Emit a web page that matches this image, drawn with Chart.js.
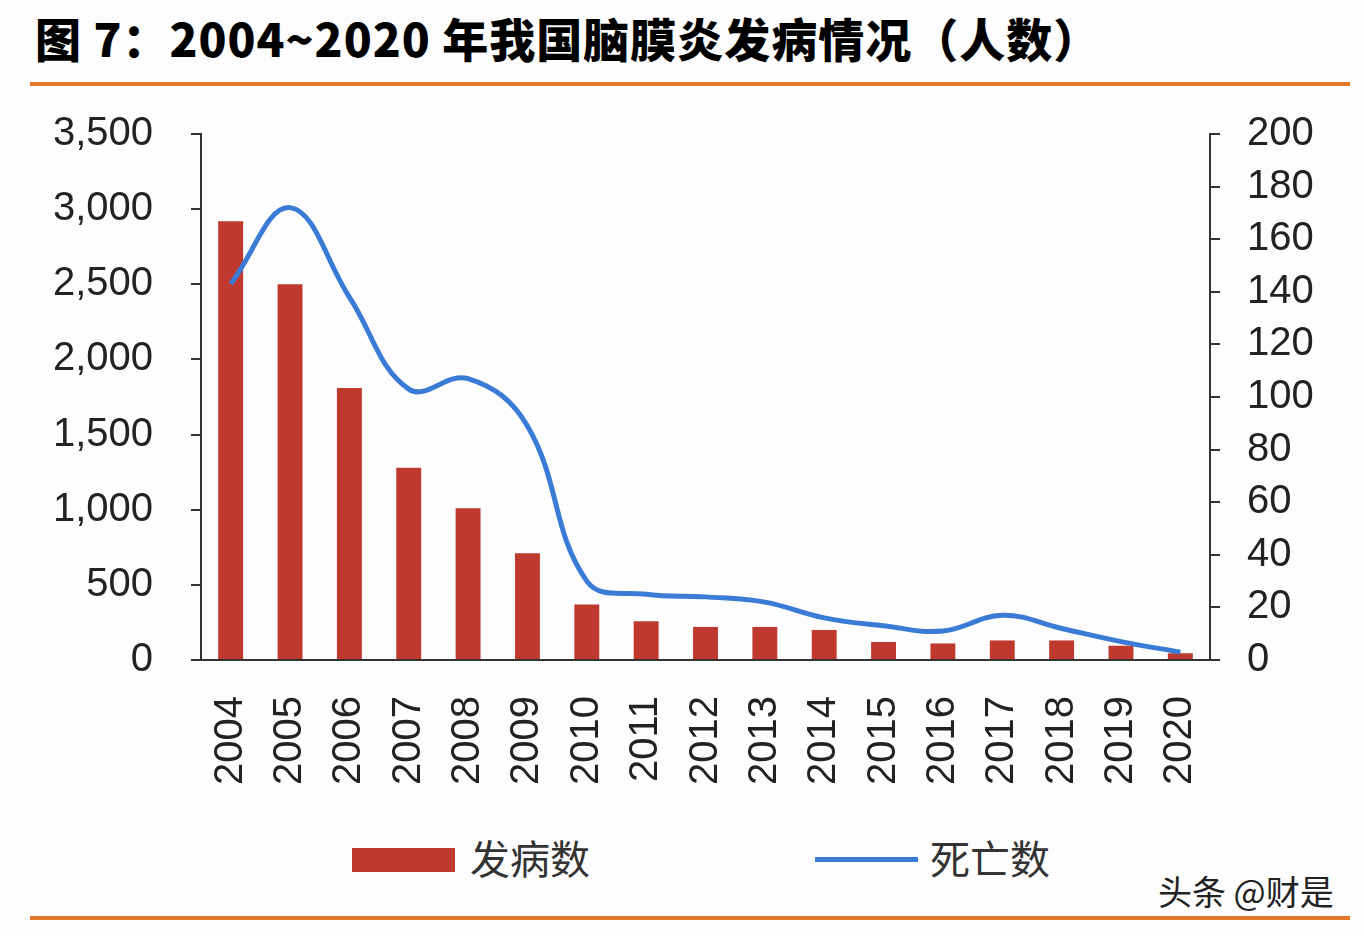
<!DOCTYPE html>
<html>
<head>
<meta charset="utf-8">
<script src="https://cdn.jsdelivr.net/npm/chart.js@4"></script>
<style>
    body { margin: 0; background: #fdfdfd; width: 1364px; height: 936px; position: relative; overflow: hidden; }
    #title { position: absolute; left: 35px; top: 4px; font: 900 46px "Noto Sans CJK SC", sans-serif; letter-spacing: 1px; color: #000; white-space: nowrap; }
    .rule { position: absolute; left: 30px; width: 1320px; height: 4px; background: #E07A2A; }
    #box { position: absolute; left: 0; top: 72px; width: 1364px; height: 748px; }
    .leg { position: absolute; top: 828px; font: 400 40px "Noto Sans CJK SC", sans-serif; color: #333; }
    .sw { position: absolute; }
    #mark { position: absolute; left: 1158px; top: 866px; font: 400 34px "Noto Sans CJK SC", sans-serif; color: #222; }
</style>
</head>
<body>
<div id="title">图 7：2004~2020 年我国脑膜炎发病情况（人数）</div>
<div class="rule" style="top:82px"></div>
<div id="box"><canvas id="myChart"></canvas></div>
<div class="sw" style="left:352px; top:848px; width:103px; height:24px; background:#C0392F"></div>
<div class="leg" style="left:470px">发病数</div>
<div class="sw" style="left:815px; top:857px; width:103px; height:5px; background:#3A7BD5"></div>
<div class="leg" style="left:930px">死亡数</div>
<div id="mark">头条 @财是</div>
<div class="rule" style="top:916px"></div>
<script>
const years = ['2004', '2005', '2006', '2007', '2008', '2009', '2010', '2011', '2012',
    '2013', '2014', '2015', '2016', '2017', '2018', '2019', '2020'];
const cases = [2920, 2500, 1810, 1280, 1010, 710, 370, 258, 220, 220, 200, 120, 110, 130, 130, 95, 45];
const deaths = [143, 172, 138, 103, 107, 89, 30, 25, 24, 22, 16, 13, 11, 17, 12, 7, 3];
const leftTicks = [0, 500, 1000, 1500, 2000, 2500, 3000, 3500];
const rightTicks = [0, 20, 40, 60, 80, 100, 120, 140, 160, 180, 200];

const tickFont = { family: 'Liberation Sans, Arial, sans-serif', size: 40 };

function generateChart() {
    const ctx = document.getElementById('myChart');

    new Chart(ctx, {
        type: 'bar',
        data: {
            labels: years,
            datasets: [
                {
                    label: '死亡数',
                    type: 'line',
                    data: deaths,
                    yAxisID: 'y1',
                    borderColor: '#3A7BD5',
                    borderWidth: 5,
                    pointRadius: 0,
                    tension: 0.4,
                    order: 0
                },
                {
                    label: '发病数',
                    data: cases,
                    yAxisID: 'y',
                    backgroundColor: '#C0392F',
                    barPercentage: 0.42,
                    categoryPercentage: 1,
                    order: 1
                }
            ]
        },
        options: {
            responsive: true,
            maintainAspectRatio: false,
            animation: false,
            layout: { padding: { top: 4, left: 0, right: 0, bottom: 0 } },
            scales: {
                x: {
                    grid: { display: false },
                    border: { color: '#333', width: 2 },
                    ticks: {
                        color: '#222', font: tickFont, minRotation: 90, maxRotation: 90,
                        autoSkip: false, padding: 28
                    },
                    afterFit: s => { s.height = 160; }
                },
                y: {
                    position: 'left',
                    min: 0, max: 3500,
                    grid: { drawOnChartArea: false, color: '#333', tickLength: 10, lineWidth: 2 },
                    border: { color: '#333', width: 2 },
                    afterBuildTicks: s => { s.ticks = leftTicks.map(v => ({ value: v })); },
                    ticks: {
                        color: '#222', font: tickFont, padding: 38, autoSkip: false,
                        callback: v => v.toLocaleString('en-US')
                    },
                    afterFit: s => { s.width = 201; }
                },
                y1: {
                    position: 'right',
                    min: 0, max: 200,
                    grid: { drawOnChartArea: false, color: '#333', tickLength: 10, lineWidth: 2 },
                    border: { color: '#333', width: 2 },
                    afterBuildTicks: s => { s.ticks = rightTicks.map(v => ({ value: v })); },
                    ticks: { color: '#222', font: tickFont, padding: 27, autoSkip: false },
                    afterFit: s => { s.width = 154; }
                }
            },
            plugins: {
                legend: { display: false },
                tooltip: { enabled: false }
            }
        }
    });
}

generateChart();
</script>
</body>
</html>
